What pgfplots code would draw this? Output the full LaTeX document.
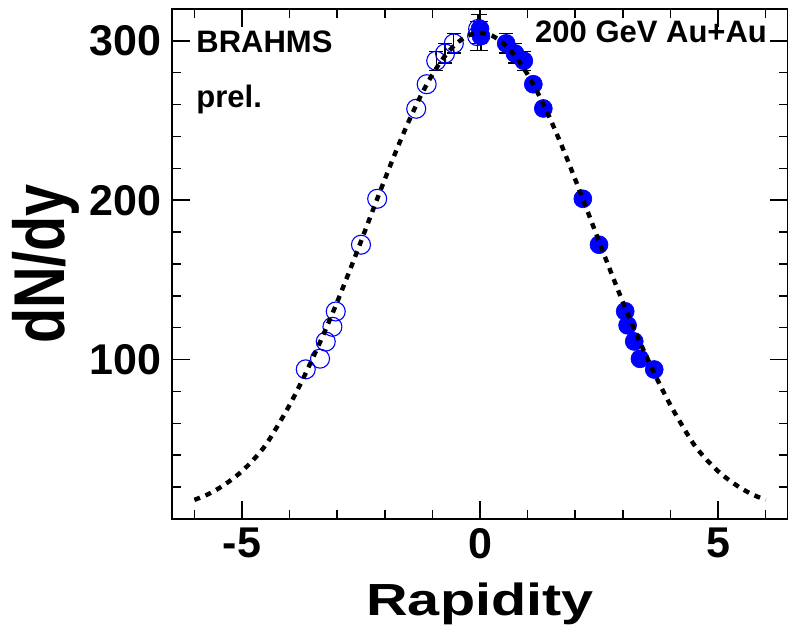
\documentclass[border=0pt]{standalone}
\usepackage{fontspec}
\setmainfont{Liberation Sans}
\usepackage{graphicx}
\usepackage{pgfplots}
\pgfplotsset{compat=1.18}
\definecolor{rootblue}{RGB}{0,0,255}
\begin{document}
\begin{tikzpicture}
\useasboundingbox (-86pt,-56pt) rectangle (308pt,259.5pt);
\begin{axis}[
  scale only axis, width=308pt, height=255pt,
  at={(0,0)}, anchor=south west,
  xmin=-6.47, xmax=6.47, ymin=0, ymax=320,
  xtick={-5,0,5}, xticklabels={-5,0,5},
  minor xtick={-6,-4,-3,-2,-1,1,2,3,4,6},
  ytick={100,200,300}, yticklabels={100,200,300},
  minor ytick={20,40,60,80,120,140,160,180,220,240,260,280},
  major tick length=9pt, minor tick length=4.5pt,
  every tick/.style={black, line width=0.75pt},
  axis line style={line width=0.75pt},
  tick label style={font=\fontsize{21.5}{24}\selectfont\bfseries, inner sep=0pt},
  xticklabel style={yshift=-4.5pt},
  yticklabel style={xshift=-5pt},
  xlabel={\scalebox{1.28}[1]{Rapidity}},
  ylabel={\scalebox{0.8}[1]{dN/dy}},
  xlabel style={at={(axis description cs:0.5,-0.190)}, anchor=base, font=\fontsize{22.5}{26}\selectfont\bfseries, inner sep=0pt},
  ylabel style={at={(axis description cs:-0.1737,0.5)}, anchor=base, font=\fontsize{36}{40}\selectfont\bfseries, inner sep=0pt},
  clip=false,
  clip marker paths=true,
  openpt/.style={only marks, mark=o, mark size=4.75pt, mark options={draw=rootblue, line width=0.55pt}},
  fillpt/.style={only marks, mark=*, mark size=4.5pt, mark options={draw=rootblue, fill=rootblue, line width=0.3pt}},
  errs/.style={error bars/.cd, y dir=both, y explicit,
    error mark options={rotate=90, mark size=3.5pt, line width=0.6pt, black},
    error bar style={line width=0.6pt, black}},
]
% open circles (reflected), near mid-rapidity with visible error bars
\addplot[openpt, errs] coordinates {
  (-0.04,307.5) +- (0,9)
  (-0.06,303) +- (0,9)
  (-0.55,298.4) +- (0,6)
  (-0.735,292.1) +- (0,6)
  (-0.92,287.5) +- (0,6)
};
\addplot[openpt] coordinates {
  (-1.12,272.8) (-1.34,257.4) (-2.16,200.9) (-2.5,172.1) (-3.03,130.2)
  (-3.1,120.6) (-3.24,111.3) (-3.36,100.6) (-3.66,93.9)
};
% filled circles
\addplot[fillpt, errs] coordinates {
  (0.0,307.5) +- (0,9)
  (0.02,303) +- (0,9)
  (0.55,298.4) +- (0,6)
  (0.735,292.1) +- (0,6)
  (0.92,287.5) +- (0,6)
};
\addplot[fillpt] coordinates {
  (1.12,272.8) (1.33,257.6) (2.16,200.9) (2.5,172.1) (3.05,130.3)
  (3.1,121.5) (3.24,111.4) (3.36,100.5) (3.66,93.8)
};
% fit curve, drawn over the markers
\addplot[black, line width=2.2pt, dash pattern=on 3pt off 3pt, smooth] coordinates {
  (-6,12) (-5.75,15) (-5.5,19) (-5.25,24) (-5,30) (-4.75,37.5) (-4.5,46.5) (-4.25,58.5)
  (-4,71.5) (-3.75,86) (-3.5,101.8) (-3.25,118.4) (-3,136.2) (-2.75,154.9) (-2.5,174.2)
  (-2.25,193.8) (-2,213.1) (-1.75,231.8) (-1.5,249.3) (-1.25,265.2) (-1,278.9) (-0.75,290)
  (-0.5,298.2) (-0.25,303.3) (0,305) (0.25,303.3) (0.5,298.2) (0.75,290) (1,278.9)
  (1.25,265.2) (1.5,249.3) (1.75,231.8) (2,213.1) (2.25,193.8) (2.5,174.2) (2.75,154.9)
  (3,136.2) (3.25,118.4) (3.5,101.8) (3.75,86) (4,71.5) (4.25,58.5) (4.5,46.5) (4.75,37.5)
  (5,30) (5.25,24) (5.5,19) (5.75,15) (6,12)
};
\node[anchor=base west, inner sep=0pt, font=\fontsize{15.5}{18}\selectfont\bfseries] at (rel axis cs:0.039,0.914) {BRAHMS};
\node[anchor=base west, inner sep=0pt, font=\fontsize{15.5}{18}\selectfont\bfseries] at (rel axis cs:0.039,0.806) {prel.};
\node[anchor=base west, inner sep=0pt, font=\fontsize{15.5}{18}\selectfont\bfseries] at (rel axis cs:0.589,0.935) {200 GeV Au+Au};
\end{axis}
\end{tikzpicture}
\end{document}
